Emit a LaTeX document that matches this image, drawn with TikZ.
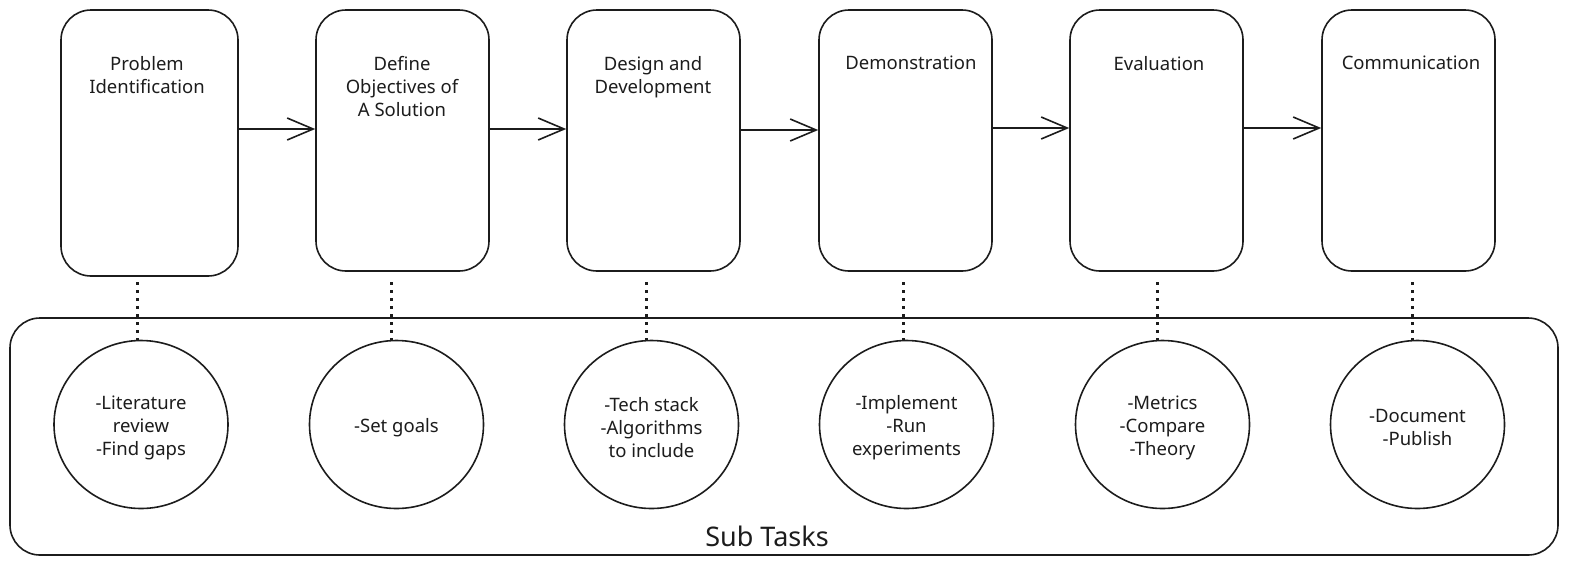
\documentclass[tikz,border=0pt]{standalone}
\usepackage{fontspec}
\setmainfont{Noto Sans}
\usetikzlibrary{arrows.meta,shapes.geometric}
\definecolor{ink}{HTML}{1C1C1C}
\tikzset{
  phase/.style={draw=ink, line width=1.6pt, rounded corners=30pt, minimum width=173pt, minimum height=261pt, inner sep=0pt},
  phasetext/.style={anchor=north, align=center, inner sep=0pt, text=ink, font=\fontsize{18.5}{23}\selectfont},
  subtask/.style={ellipse, draw=ink, line width=1.6pt, fill=white, minimum width=174pt, minimum height=168pt, inner sep=0pt},
  tasktext/.style={align=center, inner sep=0pt, text=ink, font=\fontsize{18.5}{23}\selectfont},
  flow/.style={draw=ink, line width=1.6pt, -{Straight Barb[length=26pt,width=22pt,line width=1.6pt]}},
  link/.style={draw=ink, line width=3pt, dash pattern=on 3pt off 5pt},
}
\begin{document}
\begin{tikzpicture}[x=1pt,y=-1pt]
        \useasboundingbox (0,0) rectangle (1571,566);
        % container for the sub tasks
        \node[draw=ink, line width=1.6pt, rounded corners=30pt, minimum width=1548pt, minimum height=237pt] (tasks) at (784,436.5) {};
        \node[anchor=base, text=ink, font=\fontsize{27}{32}\selectfont] (tasklabel) at (767,546.5) {Sub Tasks};

        % phases
        \node[phase, minimum width=177pt, minimum height=266pt] (P1) at (149.5,143) {};
        \node[phase] (P2) at (402.5,140.5) {};
        \node[phase] (P3) at (653.5,140.5) {};
        \node[phase] (P4) at (905.5,140.5) {};
        \node[phase] (P5) at (1156.5,140.5) {};
        \node[phase] (P6) at (1408.5,140.5) {};

        \node[phasetext] at (147,56) {Problem\\Identification};
        \node[phasetext] at (402,56) {Define\\Objectives of\\A Solution};
        \node[phasetext] at (653,56) {Design and\\Development};
        \node[phasetext] at (911,56) {Demonstration};
        \node[phasetext] at (1159,56) {Evaluation};
        \node[phasetext] at (1411,56) {Communication};

        \draw[flow] ([yshift=14pt]P1.east) -- ([yshift=11.5pt]P2.west);
        \draw[flow] ([yshift=11.5pt]P2.east) -- ([yshift=11.5pt]P3.west);
        \draw[flow] ([yshift=10.5pt]P3.east) -- ([yshift=10.5pt]P4.west);
        \draw[flow] ([yshift=12.5pt]P4.east) -- ([yshift=12.5pt]P5.west);
        \draw[flow] ([yshift=12.5pt]P5.east) -- ([yshift=12.5pt]P6.west);

        % sub tasks
        \node[subtask] (S1) at (141,424.5) {};
        \node[subtask] (S2) at (396.5,424.5) {};
        \node[subtask] (S3) at (651.5,424.5) {};
        \node[subtask] (S4) at (906.5,424.5) {};
        \node[subtask] (S5) at (1162.5,424.5) {};
        \node[subtask] (S6) at (1417.5,424.5) {};

        \node[tasktext] at ([yshift=-3pt]S1.center) {-Literature\\review\\-Find gaps};
        \node[tasktext] at ([yshift=-3pt]S2.center) {-Set goals};
        \node[tasktext] at ([yshift=-3pt]S3.center) {-Tech stack\\-Algorithms\\to include};
        \node[tasktext] at ([yshift=-3pt]S4.center) {-Implement\\-Run\\experiments};
        \node[tasktext] at ([yshift=-3pt]S5.center) {-Metrics\\-Compare\\-Theory};
        \node[tasktext] at ([yshift=-3pt]S6.center) {-Document\\-Publish};

        \draw[link] ([shift={(-4pt,-1pt)}]S1.north) -- ([shift={(-4pt,-2pt)}]S1.north |- P1.south);
        \draw[link] ([shift={(-5pt,-1pt)}]S2.north) -- ([shift={(-5pt,-2pt)}]S2.north |- P1.south);
        \draw[link] ([shift={(-5pt,-1pt)}]S3.north) -- ([shift={(-5pt,-2pt)}]S3.north |- P1.south);
        \draw[link] ([shift={(-3pt,-1pt)}]S4.north) -- ([shift={(-3pt,-2pt)}]S4.north |- P1.south);
        \draw[link] ([shift={(-5pt,-1pt)}]S5.north) -- ([shift={(-5pt,-2pt)}]S5.north |- P1.south);
        \draw[link] ([shift={(-5pt,-1pt)}]S6.north) -- ([shift={(-5pt,-2pt)}]S6.north |- P1.south);
\end{tikzpicture}
\end{document}
